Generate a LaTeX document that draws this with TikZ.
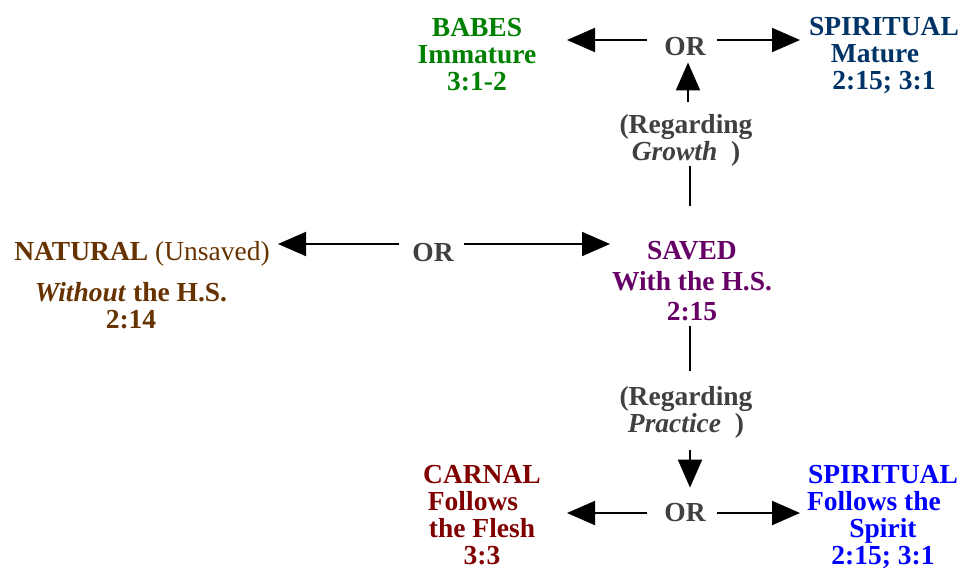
\documentclass[tikz,border=0pt]{standalone}
\usepackage{fontspec}
\setmainfont{Liberation Serif}
\usetikzlibrary{arrows.meta}
\definecolor{cgreen}{RGB}{0,128,0}
\definecolor{cdblue}{RGB}{0,51,102}
\definecolor{cgray}{RGB}{64,64,64}
\definecolor{cbrown}{RGB}{102,51,0}
\definecolor{cpurple}{RGB}{102,0,102}
\definecolor{cdred}{RGB}{128,0,0}
\definecolor{cblue}{RGB}{0,0,255}
\begin{document}
\begin{tikzpicture}[x=1pt,y=-1pt,
  every node/.style={font=\fontsize{27.5}{27}\selectfont\bfseries, inner sep=0pt, align=center, anchor=base},
  arr/.style={-{Triangle[length=28pt,width=24pt]}, line width=2pt},
  ln/.style={line width=2pt}]
\useasboundingbox (0,0) rectangle (961,571);
% blocks (anchor = baseline of last line)
\node[text=cgreen] (babes) at (477,90) {BABES\\Immature\\3:1-2};
\node[text=cdblue] (spirtop) at (884,89) {SPIRITUAL\\Mature\hspace*{18pt}\mbox{}\\2:15; 3:1};
\node[text=cgray] (ortop) at (685,55) {OR};
\node[text=cgray] (reggrowth) at (686,160) {(Regarding\\\textit{Growth}\ \ )};
\node[text=cbrown] (natural) at (131,328) {\hspace*{22pt}NATURAL {\mdseries(Unsaved)}\\[14pt]\textit{Without} the H.S.\\2:14};
\node[text=cgray] (ormid) at (433,261) {OR};
\node[text=cpurple] (saved) at (692,320) {SAVED\\[4pt]With the H.S.\\[3pt]2:15};
\node[text=cgray] (regpractice) at (686,432) {(Regarding\\\textit{Practice}\ \ )};
\node[text=cgray] (orbot) at (685,521) {OR};
\node[text=cdred] (carnal) at (482,564) {CARNAL\\Follows\hspace*{18pt}\mbox{}\\the Flesh\\3:3};
\node[text=cblue] (spirbot) at (883,564) {SPIRITUAL\\Follows the\hspace*{18pt}\mbox{}\\Spirit\\2:15; 3:1};
% free arrow ends
\coordinate (tl) at (567,40);
\coordinate (tr) at (800,40);
\coordinate (ml) at (278,244);
\coordinate (mr) at (610,244);
\coordinate (bl) at (567,513);
\coordinate (br) at (800,513);
% connectors
\draw[arr] ([xshift=-17pt]ortop.west |- tl) -- (tl);
\draw[arr] ([xshift=11pt]ortop.east |- tr) -- (tr);
\draw[arr] ([xshift=-13pt]ormid.west |- ml) -- (ml);
\draw[arr] ([xshift=10pt]ormid.east |- mr) -- (mr);
\draw[arr] ([xshift=-17pt]orbot.west |- bl) -- (bl);
\draw[arr] ([xshift=11pt]orbot.east |- br) -- (br);
\draw[arr, shorten <=12pt, shorten >=7pt] (reggrowth.north -| 688,0) -- (ortop.south -| 688,0);
\draw[ln] ([yshift=35pt]saved.north -| 690,0) -- (reggrowth.south -| 690,0);
\draw[ln] ([yshift=-5pt]saved.south -| 690,0) -- ([yshift=15pt]regpractice.north -| 690,0);
\draw[arr, shorten <=12pt, shorten >=15pt] (regpractice.south -| 690,0) -- (orbot.north -| 690,0);
\end{tikzpicture}
\end{document}
